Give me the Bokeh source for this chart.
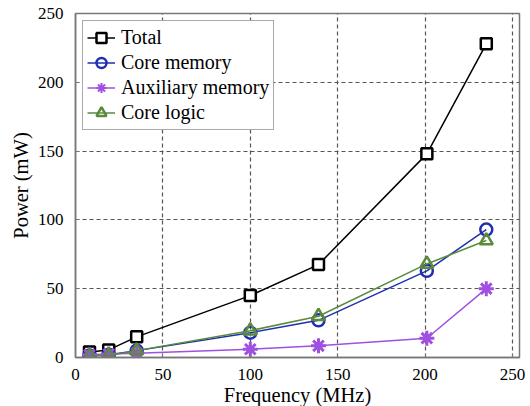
from bokeh.plotting import figure
from bokeh.models import Legend, LegendItem, FixedTicker
from bokeh.embed import file_html
from bokeh.resources import INLINE

freq = [8, 19, 35, 100, 139, 201, 235]
total = [4, 5.5, 15, 45, 67.5, 148, 228]
core_memory = [1.5, 2, 5, 18, 27, 63, 93]
aux_memory = [2, 2.5, 3, 6, 8.5, 14, 50]
core_logic = [1, 1.5, 5, 19.5, 30, 68, 85]
x_ticks = [0, 50, 100, 150, 200, 250]
y_ticks = [0, 50, 100, 150, 200, 250]

FONT = "Times"

p = figure(frame_width=444, frame_height=344, x_range=(0, 254), y_range=(0, 250),
           output_backend="svg", toolbar_location=None,
           min_border_left=75, min_border_right=11, min_border_top=13, min_border_bottom=48)
p.background_fill_color = "white"
p.outline_line_color = "#777777"
p.outline_line_width = 1.5

for ax in (p.xaxis[0], p.yaxis[0]):
    ax.major_label_text_font = FONT
    ax.major_label_text_font_size = "17px"
    ax.major_label_text_color = "black"
    ax.axis_label_text_font = FONT
    ax.axis_label_text_font_size = "20.5px"
    ax.axis_label_text_font_style = "normal"
    ax.axis_label_text_color = "black"
    ax.axis_line_color = "#777777"
    ax.axis_line_width = 1.5
    ax.major_tick_in = 4
    ax.major_tick_out = 0
    ax.minor_tick_line_color = None
    ax.major_tick_line_color = "#777777"

p.xaxis.ticker = FixedTicker(ticks=x_ticks)
p.yaxis.ticker = FixedTicker(ticks=y_ticks)
p.xaxis.axis_label = "Frequency (MHz)"
p.yaxis.axis_label = "Power (mW)"
p.xaxis.major_label_standoff = 11
p.yaxis.major_label_standoff = 12
p.xaxis.axis_label_standoff = 1
p.yaxis.axis_label_standoff = 3

p.grid.grid_line_color = "#555555"
p.grid.grid_line_dash = "4 3"
p.grid.grid_line_width = 1.2

c_total = "black"
c_cm = "#1f2fb0"
c_aux = "#a050e0"
c_cl = "#5a8a3c"

lt = p.line(freq, total, color=c_total, line_width=1.5)
mt = p.scatter(freq, total, marker="square", size=11, fill_color="white", line_color=c_total, line_width=2.5)
l2 = p.line(freq, core_memory, color=c_cm, line_width=1.5)
m2 = p.scatter(freq, core_memory, marker="circle", size=12, fill_color=None, line_color=c_cm, line_width=2.5)
l3 = p.line(freq, aux_memory, color=c_aux, line_width=1.5)
m3 = p.scatter(freq, aux_memory, marker="asterisk", size=15, line_color=c_aux, line_width=3)
m3_leg = p.scatter(freq, aux_memory, marker="asterisk", size=15, line_color=c_aux, line_width=2, visible=False)
l4 = p.line(freq, core_logic, color=c_cl, line_width=1.5)
m4 = p.scatter(freq, core_logic, marker="triangle", size=13, fill_color=None, line_color=c_cl, line_width=2.5)

legend = Legend(items=[
    LegendItem(label="Total", renderers=[lt, mt]),
    LegendItem(label="Core memory", renderers=[l2, m2]),
    LegendItem(label="Auxiliary memory", renderers=[l3, m3_leg]),
    LegendItem(label="Core logic", renderers=[l4, m4]),
], location="top_left")
legend.label_text_font = FONT
legend.label_text_font_size = "20px"
legend.label_text_color = "black"
legend.border_line_color = "#555555"
legend.border_line_width = 1.5
legend.background_fill_alpha = 1
legend.spacing = 0
legend.glyph_width = 28
legend.glyph_height = 25
legend.label_height = 25
legend.padding = 4
legend.margin = 7
legend.label_standoff = 6
p.add_layout(legend)

open("out.html", "w").write(file_html(p, INLINE))
